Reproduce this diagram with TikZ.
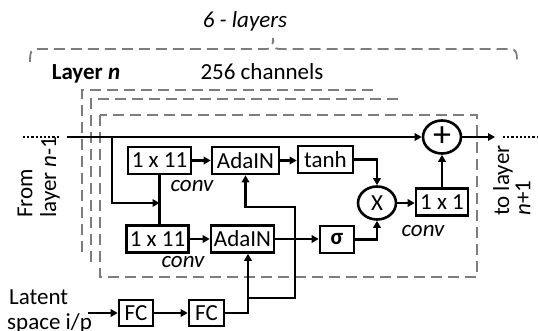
\documentclass[tikz,border=0pt]{standalone}
\usepackage{fontspec}
\setmainfont{Carlito}
\usetikzlibrary{arrows.meta,shapes.geometric,calc}
\definecolor{dgray}{RGB}{125,125,125}
\begin{document}
\begin{tikzpicture}[x=1pt,y=-1pt,
  font=\fontsize{23}{26}\selectfont,
  blk/.style={draw, line width=2.6pt, minimum height=27pt, inner sep=0pt},
  opnode/.style={draw, ellipse, line width=2.6pt, minimum width=38pt, minimum height=33pt, inner sep=0pt},
  conn/.style={line width=2.4pt, -{Triangle[length=7pt,width=7.5pt]}},
  wire/.style={line width=2.4pt},
  dotline/.style={line width=2.2pt, dotted},
  frame/.style={draw=dgray, line width=1.8pt, dash pattern=on 11pt off 6pt},
  txt/.style={inner sep=0pt},
  itx/.style={inner sep=0pt, font=\fontsize{23}{26}\selectfont\itshape}
]
\useasboundingbox (0,0) rectangle (538,331);

% dashed frames
\draw[frame] (82,252) -- (82,90) -- (379,90);
\draw[frame] (91,262) -- (91,99) -- (398,99);
\draw[frame] (100,115) rectangle (477,277);
\draw[frame] (30,62) .. controls (30,52) and (31,49) .. (37,49) -- (267,49)
  .. controls (272,49) and (273,45) .. (273,38)
  .. controls (273,45) and (274,49) .. (279,49) -- (510,49)
  .. controls (516,49) and (517,52) .. (517,62);

% titles
\node[itx, anchor=base] (title) at (245,28) {6 - layers};
\node[txt, anchor=base, font=\fontsize{23}{26}\selectfont\bfseries] (layern) at (86,80) {Layer \textit{n}};
\node[txt, anchor=base] (chan) at (262,80) {256 channels};

% blocks
\node[blk, minimum width=63pt] (c1) at (159.5,160.5) {1 x 11};
\node[blk, minimum width=62pt] (c2) at (157.5,239) {1 x 11};
\node[blk, minimum width=67pt] (a1) at (245.5,160.5) {AdaIN};
\node[blk, minimum width=63pt] (a2) at (242.5,239) {AdaIN};
\node[blk, minimum width=55pt] (th) at (325.5,159.5) {tanh};
\node[blk, minimum width=34pt] (sg) at (337,239.5) {\textbf{σ}};
\node[opnode] (mul) at (377,203) {X};
\node[blk, minimum width=52pt] (c3) at (442,202) {1 x 1};
\node[opnode] (add) at (442,137) {};
\node[txt, font=\fontsize{36}{36}\selectfont] (plus) at (add) {+};
\node[blk, minimum width=34pt, minimum height=26pt] (fc1) at (136,313) {FC};
\node[blk, minimum width=35pt, minimum height=26pt] (fc2) at (206.5,313) {FC};

% conv labels
\node[itx] (cv1) at (192,186) {conv};
\node[itx] (cv2) at (183,262) {conv};
\node[itx] (cv3) at (423,231) {conv};

% side labels
\node[txt, rotate=90, anchor=west] (from) at (25,218) {From};
\node[txt, rotate=90, anchor=west] (layerm) at (50,218) {layer \textit{n}-1};
\node[txt, rotate=90, anchor=west] (tol) at (503,216) {to layer};
\node[txt, rotate=90, anchor=west] (np) at (523,216) {\textit{n}+1};
\node[txt, anchor=base west] (lat) at (9,304) {Latent};
\node[txt, anchor=base west] (spc) at (7,329) {space i/p};

% coordinates
\coordinate (din) at (23,137);
\coordinate (dend) at (60,137);
\coordinate (ms) at (67,137);
\coordinate (b0) at (112,137);
\coordinate (b1) at (112,203);
\coordinate (oe) at (495,137);
\coordinate (d2a) at (503,137);
\coordinate (d2b) at (538,137);
\coordinate (latin) at (88,313);
\coordinate (j) at (248,298);
\coordinate (k1) at (295,298);
\coordinate (k2) at (295,207);

% connectors
\draw[dotline] (din) -- (dend);
\draw[conn] (ms) -- (add.west);
\draw[conn] (b0) |- (c1.south |- b1);
\draw[wire] (c1.south) -- (c1.south |- c2.north);
\draw[conn] (c1.east) -- (c1.east -| a1.west);
\draw[conn] (c2.east) -- (c2.east -| a2.west);
\draw[conn] (a1.east) -- (a1.east -| th.west);
\draw[conn] (th.east) -| (mul.north);
\draw[conn] (a2.east) -- (a2.east -| sg.west);
\draw[conn] (sg.east) -| (mul.south);
\draw[conn] (mul.east) -- (mul.east -| c3.west);
\draw[conn] (c3.north) -- (add.south);
\draw[conn] (add.east) -- (oe);
\draw[dotline] (d2a) -- (d2b);
\draw[conn] (latin) -- (fc1.west);
\draw[conn] (fc1.east) -- (fc2.west);
\draw[conn] (fc2.east) -| (j |- a2.south);
\draw[conn] (j) -- (k1) -- (k2) -| (a1.south);
\end{tikzpicture}
\end{document}
